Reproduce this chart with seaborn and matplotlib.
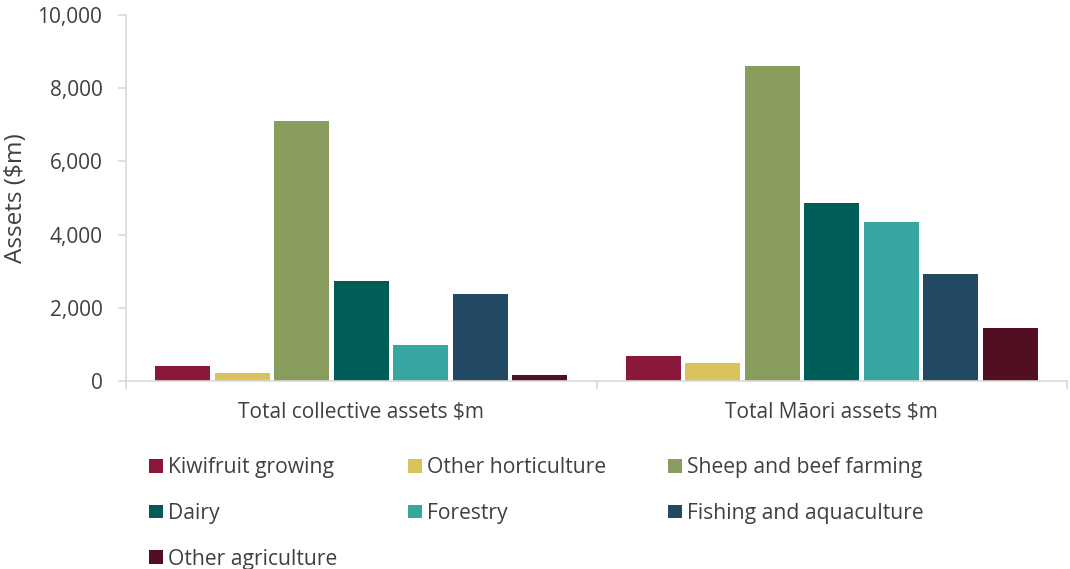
import matplotlib
matplotlib.use("Agg")
import matplotlib.pyplot as plt
from matplotlib.ticker import FuncFormatter, FixedLocator
import seaborn as sns
import pandas as pd

# Asset values by sector ($m)
groups = ["Total collective assets $m", "Total Māori assets $m"]
sectors = [
    "Kiwifruit growing",
    "Other horticulture",
    "Sheep and beef farming",
    "Dairy",
    "Forestry",
    "Fishing and aquaculture",
    "Other agriculture",
]
collective_assets = [420, 210, 7110, 2740, 975, 2370, 155]
maori_assets = [685, 490, 8610, 4870, 4345, 2925, 1440]
sector_colors = ["#8b1838", "#d9c35a", "#889c5e", "#005c57", "#36a6a0", "#224963", "#530f22"]
y_ticks = [0, 2000, 4000, 6000, 8000, 10000]

rows = []
for g, vals in zip(groups, [collective_assets, maori_assets]):
    for s, v in zip(sectors, vals):
        rows.append({"group": g, "sector": s, "value": v})
df = pd.DataFrame(rows)

sns.set_theme(style="white")
plt.rcParams["font.family"] = ["Open Sans", "DejaVu Sans"]
text_color = "#404040"
axis_color = "#d9d9d9"

fig = plt.figure(figsize=(10.7, 5.69), dpi=100)
ax = fig.add_axes([0.1178, 0.3304, 0.8794, 0.6432])

sns.barplot(
    data=df, x="group", y="value", hue="sector",
    order=groups, hue_order=sectors, palette=sector_colors,
    width=0.885, gap=0.08, saturation=1, linewidth=0, ax=ax,
)

ax.set_xlim(-0.5, 1.5)
ax.set_ylim(0, 10000)
ax.set_yticks(y_ticks)
ax.yaxis.set_major_formatter(FuncFormatter(lambda v, p: f"{int(v):,}"))

for side in ["top", "right"]:
    ax.spines[side].set_visible(False)
for side in ["left", "bottom"]:
    ax.spines[side].set_color(axis_color)
    ax.spines[side].set_linewidth(1.2)

ax.tick_params(axis="y", which="major", length=6, width=1.2, color=axis_color,
               labelsize=15, labelcolor=text_color, pad=11, left=True)
ax.tick_params(axis="x", which="major", length=0, labelsize=15,
               labelcolor=text_color, pad=15)
ax.xaxis.set_minor_locator(FixedLocator([-0.5, 0.5, 1.5]))
ax.tick_params(axis="x", which="minor", length=6, width=1.2, color=axis_color, bottom=True)

ax.set_xlabel("")
ax.set_ylabel("Assets ($m)", fontsize=17.5, color=text_color)
ax.yaxis.set_label_coords(-0.104, 0.5)

# Legend laid out in three columns below the axes
handles, labels = ax.get_legend_handles_labels()
ax.get_legend().remove()
col_x = [149 / 1070, 408 / 1070, 668 / 1070]
top_y = 1 - 457 / 569
for c in range(3):
    idx = list(range(c, len(handles), 3))
    leg = fig.legend(
        [handles[i] for i in idx], [labels[i] for i in idx],
        loc="upper left", bbox_to_anchor=(col_x[c], top_y),
        frameon=False, fontsize=15.2, labelcolor=text_color,
        handlelength=0.64, handleheight=0.64, handletextpad=0.25,
        labelspacing=1.18, borderpad=0, borderaxespad=0,
    )

fig.savefig("out.png", dpi=100)
